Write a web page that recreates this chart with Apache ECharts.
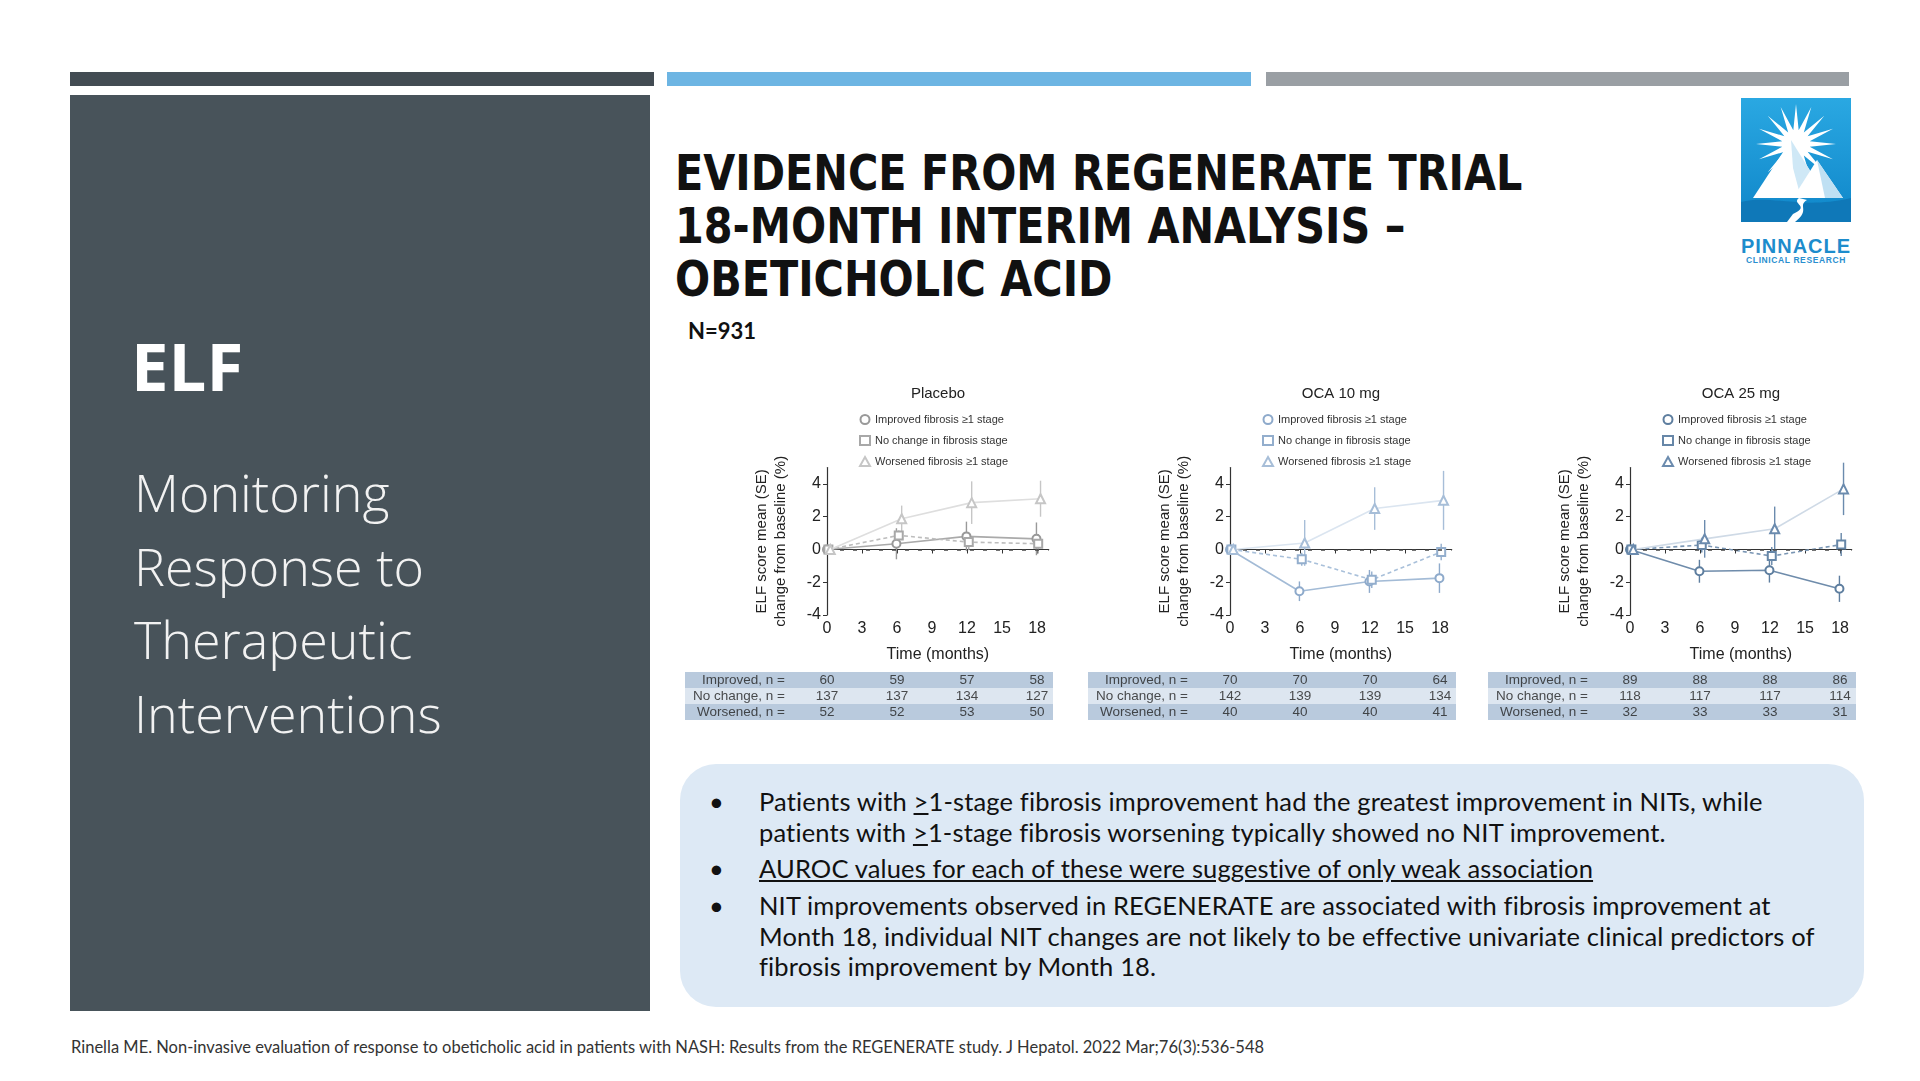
<!DOCTYPE html>
<html>
<head>
<meta charset="utf-8">
<title>ELF – REGENERATE</title>
<script src="https://cdn.jsdelivr.net/npm/echarts@6/dist/echarts.min.js"></script>
<style>
  body { margin: 0; width: 1920px; height: 1081px; background: #fff; position: relative; overflow: hidden; font-family: Lato, 'Open Sans', sans-serif; }
  .bar { position: absolute; top: 72px; height: 14px; }
  .panel { position: absolute; left: 70px; top: 95px; width: 580px; height: 916px; background: #48535a; }
  .elf { position: absolute; left: 131px; top: 332px; font: bold 67px/67px 'Open Sans', sans-serif; color: #fff; }
  .sub { position: absolute; left: 134px; top: 455px; font: 300 52px/73.6px 'Open Sans', sans-serif; color: #f2f2f2; }
  .title { position: absolute; left: 675px; top: 147px; font: bold 46px/49px 'DejaVu Sans Condensed', 'DejaVu Sans', sans-serif; color: #111; transform: scaleY(1.08); transform-origin: 0 0; white-space: nowrap; }
  .n { position: absolute; left: 688px; top: 318px; font: bold 22px/26px Lato, sans-serif; color: #111; }
  .box { position: absolute; left: 680px; top: 764px; width: 1184px; height: 243px; border-radius: 36px; background: #dde9f5; }
  .box p { position: absolute; left: 79px; margin: 0; font: 25.5px/30.5px Lato, sans-serif; letter-spacing: 0.15px; color: #111; white-space: nowrap; }
  .box p::before { content: '•'; position: absolute; left: -50px; }
  .foot { position: absolute; left: 71px; top: 1038px; font: 16.5px/19px Lato, sans-serif; color: #333; white-space: nowrap; }
  .logo { position: absolute; left: 1741px; top: 98px; }
  .pin { position: absolute; left: 1728px; top: 235px; width: 136px; text-align: center; font: bold 20px/22px 'Liberation Sans', sans-serif; color: #1d8ccc; letter-spacing: 1px; }
  .clin { position: absolute; left: 1728px; top: 255px; width: 136px; text-align: center; font: bold 8.5px/10px 'Liberation Sans', sans-serif; color: #2a8fcf; letter-spacing: 0.6px; }
  #main { position: absolute; left: 0; top: 0; width: 1920px; height: 1081px; z-index: 2; }
</style>
</head>
<body>
<div class="bar" style="left:70px;width:584px;background:#434c53"></div>
<div class="bar" style="left:667px;width:584px;background:#6db5e3"></div>
<div class="bar" style="left:1266px;width:583px;background:#9a9fa4"></div>
<div class="panel"></div>
<div class="elf">ELF</div>
<div class="sub">Monitoring<br>Response to<br>Therapeutic<br>Interventions</div>
<div class="title">EVIDENCE FROM REGENERATE TRIAL<br>18-MONTH INTERIM ANALYSIS –<br>OBETICHOLIC ACID</div>
<div class="n">N=931</div>
<svg class="logo" id="logo" width="110" height="124" viewBox="0 0 110 124"></svg>
<div class="pin">PINNACLE</div>
<div class="clin">CLINICAL RESEARCH</div>
<div class="box">
  <p style="top:22px">Patients with <u>&gt;</u>1-stage fibrosis improvement had the greatest improvement in NITs, while<br>patients with <u>&gt;</u>1-stage fibrosis worsening typically showed no NIT improvement.</p>
  <p style="top:89px"><u>AUROC values for each of these were suggestive of only weak association</u></p>
  <p style="top:126px">NIT improvements observed in REGENERATE are associated with fibrosis improvement at<br>Month 18, individual NIT changes are not likely to be effective univariate clinical predictors of<br>fibrosis improvement by Month 18.</p>
</div>
<div class="foot">Rinella ME. Non-invasive evaluation of response to obeticholic acid in patients with NASH: Results from the REGENERATE study. J Hepatol. 2022 Mar;76(3):536-548</div>
<div id="main"></div>
<script>
// logo, a rough sketch of the mountain mark
var rays = []
for (var k = 0; k < 32; k++) {
  var a = Math.PI * k / 16
  var r = k % 2 === 0 ? 40 : 14
  rays.push((55 + r * Math.cos(a)).toFixed(1) + ',' + (46 + r * Math.sin(a)).toFixed(1))
}
document.getElementById('logo').innerHTML =
  '<defs><linearGradient id="lg" x1="0" y1="0" x2="0" y2="1"><stop offset="0" stop-color="#2aa8e2"/><stop offset="1" stop-color="#0f86c9"/></linearGradient></defs>' +
  '<rect width="110" height="124" fill="url(#lg)"/>' +
  '<polygon points="' + rays.join(' ') + '" fill="#fff"/>' +
  '<polygon points="12,100 50,42 86,100" fill="#fff"/>' +
  '<polygon points="50,42 86,100 60,100 52,70" fill="#cfe8f6"/>' +
  '<polygon points="52,100 76,62 102,100" fill="#fff"/>' +
  '<polygon points="76,62 102,100 84,100" fill="#bfe0f3"/>' +
  '<path d="M0,104 C30,96 60,112 110,100 L110,124 L0,124 Z" fill="#0f78b8"/>' +
  '<path d="M58,100 C50,106 70,108 52,116 L46,124 L54,124 C70,112 56,108 66,102 Z" fill="#fff"/>'

// ---- data ----
const months = [0, 6, 12, 18]
const xTicks = [0, 3, 6, 9, 12, 15, 18]
const yTicks = [-4, -2, 0, 2, 4]
const arms = ['Placebo', 'OCA 10 mg', 'OCA 25 mg']
const groupNames = ['Improved fibrosis ≥1 stage', 'No change in fibrosis stage', 'Worsened fibrosis ≥1 stage']
const rowLabels = ['Improved, n =', 'No change, n =', 'Worsened, n =']

// small horizontal offsets of the markers around each visit
const improvedX = [0, 5.95, 11.95, 17.95]
const noChangeX = [0.12, 6.15, 12.15, 18.1]
const worsenedX = [0.28, 6.4, 12.4, 18.3]

const placeboImproved = [0, 0.35, 0.8, 0.65]
const placeboImprovedSE = [0, 0.95, 0.9, 1.0]
const placeboNoChange = [0, 0.86, 0.45, 0.35]
const placeboNoChangeSE = [0, 0.3, 0.5, 0.6]
const placeboWorsened = [0, 1.88, 2.86, 3.1]
const placeboWorsenedSE = [0, 0.8, 1.3, 1.1]

const oca10Improved = [0, -2.55, -1.95, -1.75]
const oca10ImprovedSE = [0, 0.6, 0.7, 0.9]
const oca10NoChange = [0, -0.6, -1.85, -0.15]
const oca10NoChangeSE = [0, 0.4, 0.5, 0.5]
const oca10Worsened = [0, 0.4, 2.5, 3.0]
const oca10WorsenedSE = [0, 1.4, 1.3, 1.8]

const oca25Improved = [0, -1.33, -1.27, -2.4]
const oca25ImprovedSE = [0, 0.7, 0.75, 0.8]
const oca25NoChange = [0, 0.27, -0.4, 0.3]
const oca25NoChangeSE = [0, 0.45, 0.55, 0.7]
const oca25Worsened = [0, 0.65, 1.27, 3.7]
const oca25WorsenedSE = [0, 1.15, 1.35, 1.6]

const placeboN = [[60, 59, 57, 58], [137, 137, 134, 127], [52, 52, 53, 50]]
const oca10N = [[70, 70, 70, 64], [142, 139, 139, 134], [40, 40, 40, 41]]
const oca25N = [[89, 88, 88, 86], [118, 117, 117, 114], [32, 33, 33, 31]]

// ---- layout / styles ----
const font = 'Liberation Sans'
const axisLeft = [827, 1230, 1630]
const plotTop = 467.6
const plotH = 147.4
const plotW = 221.7
const groupX = [improvedX, noChangeX, worsenedX]
const means = [
  [placeboImproved, placeboNoChange, placeboWorsened],
  [oca10Improved, oca10NoChange, oca10Worsened],
  [oca25Improved, oca25NoChange, oca25Worsened]
]
const ses = [
  [placeboImprovedSE, placeboNoChangeSE, placeboWorsenedSE],
  [oca10ImprovedSE, oca10NoChangeSE, oca10WorsenedSE],
  [oca25ImprovedSE, oca25NoChangeSE, oca25WorsenedSE]
]
const counts = [placeboN, oca10N, oca25N]
const lineColors = [
  ['#aaaaaa', '#bdbdbd', '#dedede'],
  ['#a3bbd6', '#a9c0da', '#dbe5f0'],
  ['#6f8cab', '#7a96b4', '#cfdae6']
]
const markColors = [
  ['#999999', '#a8a8a8', '#c6c6c6'],
  ['#8eaacb', '#93aecd', '#a7bed8'],
  ['#5e7e9f', '#6787a8', '#6b8bae']
]
const symbols = ['emptyCircle', 'emptyRect', 'emptyTriangle']

var chart = echarts.init(document.getElementById('main'), null, { renderer: 'canvas' })

var grid = [], xAxis = [], yAxis = [], series = [], legend = [], title = []

arms.forEach(function (arm, i) {
  var x0 = axisLeft[i]
  var c = 2 * i      // plot grid / axes
  var t = 2 * i + 1  // n table grid / axes
  grid.push({ left: x0, top: plotTop, width: plotW, height: plotH })
  xAxis.push({
    type: 'value', gridIndex: c, min: 0, max: 19,
    name: 'Time (months)', nameLocation: 'middle', nameGap: 32,
    nameTextStyle: { fontFamily: font, fontSize: 16, color: '#222' },
    axisLine: { lineStyle: { color: '#333', width: 1.2 } },
    axisTick: { show: true, length: 4, customValues: xTicks, lineStyle: { color: '#333' } },
    axisLabel: { customValues: xTicks, fontFamily: font, fontSize: 16, color: '#222', margin: 6 },
    splitLine: { show: false }
  })
  yAxis.push({
    type: 'value', gridIndex: c, min: -4, max: 5,
    name: 'ELF score mean (SE)\nchange from baseline (%)', nameLocation: 'middle', nameGap: 37,
    nameTextStyle: { fontFamily: font, fontSize: 15, lineHeight: 19, color: '#222' },
    axisLine: { show: true, lineStyle: { color: '#333', width: 1.2 } },
    axisTick: { show: true, length: 4, customValues: yTicks, lineStyle: { color: '#333' } },
    axisLabel: { customValues: yTicks, fontFamily: font, fontSize: 16, color: '#222', margin: 6 },
    splitLine: { show: false }
  })
  title.push({
    text: arm, left: x0 + 106, top: 381, textAlign: 'center',
    textStyle: { fontFamily: font, fontSize: 15, fontWeight: 'normal', color: '#222' }
  })
  legend.push({
    left: x0 + 27, top: 409, orient: 'vertical', itemWidth: 10, itemHeight: 9, itemGap: 10,
    selectedMode: false,
    textStyle: { fontFamily: font, fontSize: 11, color: '#333' },
    formatter: function (name) { return name.split('#')[0] },
    data: groupNames.map(function (g, j) { return { name: g + '#' + i, icon: symbols[j] } })
  })

  groupNames.forEach(function (g, j) {
    var xs = groupX[j], m = means[i][j], s = ses[i][j]
    var err = []
    xs.forEach(function (x, k) { if (s[k] > 0) err.push([x, m[k] - s[k], m[k] + s[k]]) })
    series.push({
      type: 'custom', name: 'err' + i + j, xAxisIndex: c, yAxisIndex: c, z: 2, silent: true,
      data: err,
      encode: { x: 0, y: [1, 2] },
      renderItem: function (params, api) {
        var a = api.coord([api.value(0), api.value(1)])
        var b = api.coord([api.value(0), api.value(2)])
        return { type: 'line', shape: { x1: a[0], y1: a[1], x2: b[0], y2: b[1] }, style: { stroke: markColors[i][j], lineWidth: 1.4 } }
      }
    })
    var line = {
      type: 'line', name: g + '#' + i, xAxisIndex: c, yAxisIndex: c, z: 3 + j,
      data: xs.map(function (x, k) { return [x, m[k]] }),
      symbol: symbols[j], symbolSize: j === 2 ? 9 : 8,
      lineStyle: { color: lineColors[i][j], width: 1.6, type: j === 1 ? [4, 3] : 'solid' },
      itemStyle: { color: markColors[i][j], borderWidth: 1.3 },
      emphasis: { disabled: true }
    }
    if (j === 0) {
      line.markLine = {
        silent: true, symbol: ['none', 'none'], label: { show: false },
        lineStyle: { color: '#444', type: [4, 9], width: 1.6 },
        data: [{ yAxis: 0 }]
      }
    }
    series.push(line)
  })

  // n table below each panel, sharing the month scale
  grid.push({ left: x0 - 142, top: 672, width: 368, height: 48 })
  xAxis.push({ type: 'value', gridIndex: t, min: -12.17, max: 19.37, show: false })
  yAxis.push({
    type: 'category', gridIndex: t, data: rowLabels, inverse: true,
    axisLine: { show: false }, axisTick: { show: false }, axisLabel: { show: false },
    splitArea: { show: true, interval: 0, areaStyle: { color: ['#b9cadd', '#dde6f0'] } }
  })
  var cells = []
  counts[i].forEach(function (row, r) {
    row.forEach(function (n, k) { cells.push([months[k], r, n]) })
  })
  series.push({
    type: 'scatter', xAxisIndex: t, yAxisIndex: t, symbolSize: 1, silent: true,
    itemStyle: { color: 'rgba(0,0,0,0)' },
    data: cells,
    label: { show: true, position: 'inside', fontFamily: font, fontSize: 13.5, color: '#222', formatter: function (p) { return p.value[2] } }
  })
  series.push({
    type: 'scatter', xAxisIndex: t, yAxisIndex: t, symbolSize: 1, silent: true,
    itemStyle: { color: 'rgba(0,0,0,0)' },
    data: rowLabels.map(function (l, r) { return [-3.6, r, l] }),
    label: { show: true, position: 'inside', align: 'right', fontFamily: font, fontSize: 13.5, color: '#222', formatter: function (p) { return p.value[2] } }
  })
})

var option = {
  backgroundColor: 'transparent',
  animation: false,
  title: title,
  legend: legend,
  grid: grid,
  xAxis: xAxis,
  yAxis: yAxis,
  series: series
}
option && chart.setOption(option)
</script>
</body>
</html>
